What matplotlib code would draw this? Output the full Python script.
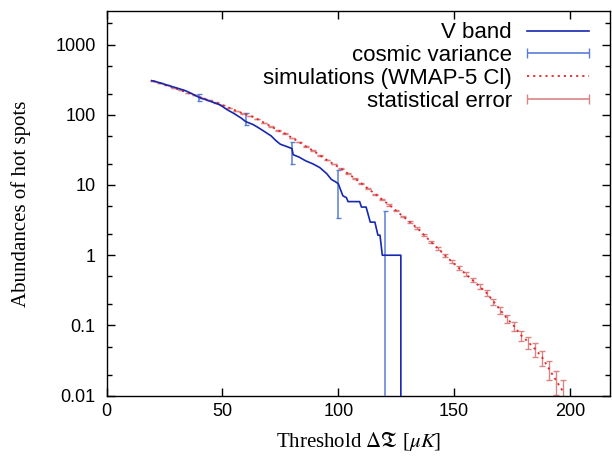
import numpy as np
import matplotlib
matplotlib.use("Agg")
import matplotlib.pyplot as plt
from matplotlib.legend_handler import HandlerErrorbar

plt.rcParams["font.family"] = ["Liberation Sans", "DejaVu Sans"]
plt.rcParams["mathtext.fontset"] = "stix"

# ── Data ──────────────────────────────────────────────────
# V band: cumulative hot spot counts vs threshold
vband_x = [19.4, 23, 27, 30, 34, 37, 40, 43, 46, 49, 52, 55, 58, 60, 63, 65,
           68, 71, 73, 75, 78, 80, 80.5, 83, 86, 89, 92, 95, 97, 99, 100,
           101, 102, 103.5, 104.2, 109.2, 110, 112, 113.8, 115.8, 117.1,
           118, 119, 127, 127]
vband_y = [306, 285, 259, 242, 220, 198, 176, 163, 150, 138, 118, 104, 90,
           80, 73, 67, 58, 50, 43, 38, 35, 33, 27, 25, 22, 20, 17.7, 14.5,
           12, 11, 10.4, 8.5, 7, 6.6, 5.8, 5.8, 4.85, 4.85, 2.96, 2.96,
           1.93, 1.93, 1, 1, 0]

# cosmic variance bars on the V band (centre, lower end, upper end)
cv_x = [40, 60, 80, 100, 120]
cv_y = [176, 80, 27, 10.4, 1]
cv_lo = [158, 72, 19.8, 3.35, -2.2]
cv_hi = [198, 106, 41, 16.2, 4.2]

# simulations (WMAP-5 Cl), mean abundance and statistical error
sim_x = [20, 23, 26, 29, 32, 35, 38, 41, 44, 47, 50, 53, 56, 59, 62, 65,
         68, 71, 74, 77, 80, 83, 86, 89, 92, 95, 98, 101, 104, 107, 110,
         113, 116, 119, 122, 125, 128, 131, 134, 137, 140, 143, 146, 149,
         152, 155, 158, 161, 164, 167, 170, 173, 176, 179, 182, 185, 188,
         191, 194, 197]
sim_y = [303, 282, 262, 242, 223, 206, 190, 175, 161, 149, 137, 125, 114,
         104, 97, 87, 77, 68, 60, 54, 47, 41, 35.5, 31, 26.5, 22.8, 19.8,
         17.3, 14.7, 12.5, 10.5, 8.8, 7.4, 6.2, 5.2, 4.3, 3.55, 2.95, 2.45,
         1.95, 1.55, 1.25, 1.0, 0.81, 0.66, 0.54, 0.44, 0.36, 0.29, 0.22,
         0.165, 0.124, 0.097, 0.072, 0.058, 0.046, 0.035, 0.024, 0.0165,
         0.0115]
sim_err = [0.82, 0.79, 0.76, 0.73, 0.70, 0.68, 0.65, 0.62, 0.60, 0.58, 0.55,
           0.53, 0.50, 0.48, 0.46, 0.44, 0.41, 0.39, 0.37, 0.35, 0.32, 0.30,
           0.28, 0.26, 0.24, 0.225, 0.21, 0.196, 0.18, 0.167, 0.153, 0.14,
           0.128, 0.117, 0.107, 0.098, 0.089, 0.081, 0.074, 0.066, 0.059,
           0.053, 0.047, 0.042, 0.038, 0.035, 0.031, 0.028, 0.025, 0.022,
           0.019, 0.0166, 0.0147, 0.0126, 0.0114, 0.0101, 0.0088, 0.0073,
           0.0061, 0.0051]

x_ticks = [0, 50, 100, 150, 200]
y_ticks = [0.01, 0.1, 1, 10, 100, 1000]
y_ticklabels = ["0.01", "0.1", "1", "10", "100", "1000"]

# ── Colours ───────────────────────────────────────────────
C_VBAND = "#1628b0"
C_CV = "#5a7ed6"
C_SIM = "#e8262a"
C_SE = "#d98585"

fig = plt.figure(figsize=(6.12, 4.62), dpi=100)
ax = fig.add_axes([0.1743, 0.1435, 0.9975 - 0.1743, 0.9762 - 0.1435])
ax.set_yscale("log", nonpositive="clip")

cv_y_arr = np.array(cv_y)
cv_err = [cv_y_arr - np.array(cv_lo), np.array(cv_hi) - cv_y_arr]
ax.errorbar(cv_x, cv_y, yerr=cv_err, fmt="none", ecolor=C_CV,
            elinewidth=1.1, capsize=1.8, capthick=1.0, zorder=3)

ax.errorbar(sim_x, sim_y, yerr=sim_err, fmt="none", ecolor=C_SE,
            elinewidth=1.0, capsize=2.0, capthick=1.0, zorder=2)
sim_line, = ax.plot(sim_x, sim_y, color=C_SIM, lw=1.3,
                    linestyle=(0, (1.2, 2.2)), zorder=4)

vband_line, = ax.plot(vband_x, vband_y, color=C_VBAND, lw=1.2, zorder=5)

# legend proxies drawn as horizontal bars with end caps (gnuplot look)
cv_proxy = ax.errorbar([np.nan], [np.nan], xerr=[np.nan], fmt="none",
                       ecolor=C_CV, elinewidth=1.2, capsize=3.5, capthick=1.0)
se_proxy = ax.errorbar([np.nan], [np.nan], xerr=[np.nan], fmt="none",
                       ecolor=C_SE, elinewidth=1.2, capsize=3.5, capthick=1.0)

ax.set_xlim(0, 217.5)
ax.set_ylim(0.01, 3000)

ax.set_xticks(x_ticks)
ax.set_xticks([], minor=True)
ax.set_yticks(y_ticks)
ax.set_yticklabels(y_ticklabels)
ax.yaxis.set_minor_locator(matplotlib.ticker.LogLocator(base=10, subs=(2, 5)))
ax.yaxis.set_minor_formatter(matplotlib.ticker.NullFormatter())

ax.tick_params(which="both", direction="in", top=True, right=True,
               labelsize=13, width=1.0)
ax.tick_params(which="major", length=6)
ax.tick_params(which="minor", length=3.5)
ax.tick_params(axis="x", pad=5)
ax.tick_params(axis="y", pad=8)
for s in ax.spines.values():
    s.set_linewidth(1.0)

ax.set_xlabel(r"Threshold $\Delta\mathfrak{T}$ [$\mu K$]",
              family="Liberation Serif", fontsize=15)
ax.set_ylabel("Abundances of hot spots", family="Liberation Serif",
              fontsize=15)
ax.xaxis.set_label_coords(0.5, -0.088)
ax.yaxis.set_label_coords(-0.15, 0.5)

hl = 2.8
leg = ax.legend(
    handles=[vband_line, cv_proxy, sim_line, se_proxy],
    labels=["V band", "cosmic variance", "simulations (WMAP-5 Cl)",
            "statistical error"],
    handler_map={cv_proxy: HandlerErrorbar(xerr_size=hl / 2),
                 se_proxy: HandlerErrorbar(xerr_size=hl / 2)},
    loc="upper right", bbox_to_anchor=(589 / 612, 0.9515),
    bbox_transform=fig.transFigure, frameon=False, markerfirst=False,
    fontsize=16, handlelength=hl, handletextpad=0.68, labelspacing=0.08,
    borderpad=0, borderaxespad=0,
)

fig.savefig("out.png", dpi=100)
